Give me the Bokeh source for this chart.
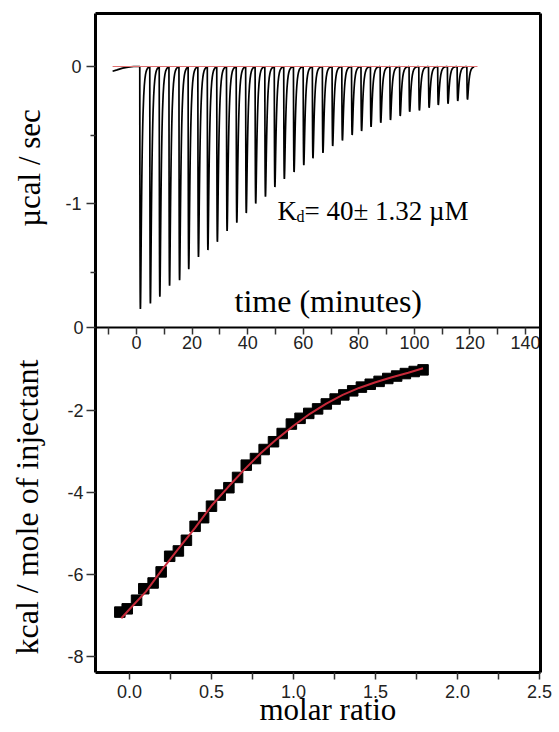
import numpy as np
from bokeh.plotting import figure
from bokeh.models import Range1d, LinearAxis, FixedTicker, Label
from bokeh.embed import file_html
from bokeh.resources import INLINE

# ---------------- data ----------------
# raw thermogram (upper panel): time in minutes, signal in ucal/sec
pre_time = [-8.6, -7.0, -5.0, -3.0, -1.0]
pre_ucal = [-0.035, -0.025, -0.012, -0.004, 0.0]
peak_time = [1.4, 5.0, 8.4, 11.9, 15.5, 18.8, 22.3, 25.7, 29.1, 32.6,
             36.1, 39.5, 42.9, 46.4, 49.8, 53.2, 56.7, 60.2, 63.5, 67.1,
             70.6, 74.1, 77.6, 81.0, 84.4, 87.9, 91.4, 94.9, 98.3, 101.8,
             105.3, 108.6, 112.1, 115.6, 119.1]
peak_ucal = [-1.77, -1.73, -1.68, -1.60, -1.56, -1.48, -1.39, -1.34, -1.28, -1.20,
             -1.14, -1.07, -1.00, -0.95, -0.88, -0.82, -0.77, -0.72, -0.67, -0.63,
             -0.58, -0.54, -0.50, -0.47, -0.44, -0.41, -0.39, -0.36, -0.33, -0.32,
             -0.30, -0.28, -0.27, -0.25, -0.24]
trace_end_time = 121.5
baseline_time = [-8.6, 122.7]
baseline_ucal = [0.0, 0.0]

# integrated heats (lower panel)
molar = [-0.059, -0.014, 0.043, 0.087, 0.144, 0.193, 0.245, 0.298, 0.347, 0.400,
         0.452, 0.500, 0.553, 0.606, 0.659, 0.712, 0.768, 0.821, 0.878, 0.931,
         0.987, 1.040, 1.093, 1.147, 1.200, 1.254, 1.307, 1.361, 1.414, 1.468,
         1.522, 1.575, 1.629, 1.682, 1.736, 1.790]
heat = [-6.92, -6.84, -6.63, -6.35, -6.21, -5.94, -5.56, -5.43, -5.17, -4.83,
        -4.62, -4.34, -4.07, -3.89, -3.64, -3.34, -3.18, -2.96, -2.77, -2.57,
        -2.34, -2.20, -2.08, -1.97, -1.85, -1.73, -1.63, -1.53, -1.44, -1.37,
        -1.30, -1.23, -1.17, -1.11, -1.06, -1.02]
fit_molar = [-0.05, 0.0, 0.1, 0.2, 0.3, 0.4, 0.5, 0.6, 0.7, 0.8,
             0.9, 1.0, 1.1, 1.2, 1.3, 1.4, 1.5, 1.6, 1.7, 1.79]
fit_heat = [-7.07, -6.85, -6.42, -5.88, -5.37, -4.87, -4.33, -3.88, -3.45, -3.05,
            -2.70, -2.38, -2.09, -1.84, -1.63, -1.46, -1.32, -1.20, -1.09, -0.98]

# ticks and tick labels
time_ticks = [0, 20, 40, 60, 80, 100, 120, 140]
time_minor = [-10, 10, 30, 50, 70, 90, 110, 130]
time_labels = ["0", "20", "40", "60", "80", "100", "120", "140"]
ucal_ticks = [0, -1]
ucal_minor = [-0.5, -1.5]
ucal_labels = ["0", "-1"]
kcal_ticks = [-8, -6, -4, -2, 0]
kcal_labels = ["-8", "-6", "-4", "-2", "0"]
molar_ticks = [0.0, 0.5, 1.0, 1.5, 2.0, 2.5]
molar_minor = [0.25, 0.75, 1.25, 1.75, 2.25]
molar_labels = ["0.0", "0.5", "1.0", "1.5", "2.0", "2.5"]

# ---------------- build thermogram trace from peaks ----------------
tau_rise, tau_decay = 0.12, 0.5
s_peak = tau_rise * tau_decay / (tau_decay - tau_rise) * np.log(tau_decay / tau_rise)
norm = np.exp(-s_peak / tau_decay) - np.exp(-s_peak / tau_rise)
trace_t = list(pre_time)
trace_y = list(pre_ucal)
n = len(peak_time)
for i, (tp, d) in enumerate(zip(peak_time, peak_ucal)):
    t0 = tp - s_peak
    t1 = (peak_time[i + 1] - s_peak) if i + 1 < n else trace_end_time
    s = np.concatenate([np.linspace(0, 1.2, 50), np.linspace(1.2, t1 - t0, 12)[1:]])
    g = (np.exp(-s / tau_decay) - np.exp(-s / tau_rise)) / norm
    trace_t += list(t0 + s)
    trace_y += list(d * g)

# ---------------- figure (frame = whole canvas; boxes drawn by bounded axes) ----------------
W, H = 555, 730
# plot box in data units
molar_lo, molar_hi = -0.207, 2.506
kcal_lo, kcal_hi = -8.39, 7.66
time_lo, time_hi = -14.75, 145.4

p = figure(width=W, height=H,
           x_range=Range1d(-0.7866, 2.5976), y_range=Range1d(-9.803, 7.976),
           x_axis_location=None, y_axis_location=None,
           toolbar_location=None, output_backend="svg",
           min_border=0, min_border_left=0, min_border_right=0,
           min_border_top=0, min_border_bottom=0)
p.extra_x_ranges = {"time": Range1d(-48.94, 150.77)}
p.extra_y_ranges = {"ucal": Range1d(-4.8467, 0.4818)}
p.grid.visible = False
p.outline_line_color = None
p.background_fill_color = "white"
p.border_fill_color = "white"


def make_axis(side, ticks, minor, labels, loc, bounds, tick_out, minor_out, standoff,
              line_width=3, x_range_name="default", y_range_name="default"):
    ax = LinearAxis(ticker=FixedTicker(ticks=ticks, minor_ticks=minor),
                    fixed_location=loc, bounds=bounds,
                    x_range_name=x_range_name, y_range_name=y_range_name)
    ax.major_label_text_font = "Liberation Sans"
    if labels:
        ax.major_label_overrides = dict(zip(ticks, labels))
        ax.major_label_text_font_size = "18px"
    else:
        ax.major_label_text_font_size = "0px"
    ax.major_label_text_color = "#222222"
    ax.axis_line_color = "black"
    ax.axis_line_width = line_width
    ax.major_tick_line_color = "#333333"
    ax.major_tick_line_width = 1.5
    ax.minor_tick_line_color = "#333333"
    ax.minor_tick_line_width = 1.5
    ax.major_tick_in = 0
    ax.minor_tick_in = 0
    ax.major_tick_out = tick_out
    ax.minor_tick_out = minor_out
    ax.major_label_standoff = standoff
    p.add_layout(ax, side)
    return ax

# lower panel x axis (molar ratio) at the bottom of the box
make_axis("below", molar_ticks, molar_minor, molar_labels, kcal_lo, (molar_lo, molar_hi), 7, 7, 6)
# lower panel y axis (kcal)
make_axis("left", kcal_ticks, [], kcal_labels, molar_lo, (kcal_lo, kcal_hi), 9, 0, 3)
# upper panel y axis (ucal)
make_axis("left", ucal_ticks, ucal_minor, ucal_labels, molar_lo, (kcal_lo, kcal_hi), 9, 5, 5,
          line_width=0, y_range_name="ucal")
# upper panel x axis (time), drawn on the divider between the panels
make_axis("below", time_ticks, time_minor, time_labels, 0, (time_lo, time_hi), 7, 7, 1,
          line_width=2, x_range_name="time")
# right and top edges of the box
make_axis("right", [], [], None, molar_hi, (kcal_lo, kcal_hi), 0, 0, 0)
make_axis("above", [], [], None, kcal_hi, (molar_lo, molar_hi), 0, 0, 0)

# ---------------- glyphs ----------------
p.line(trace_t, trace_y, x_range_name="time", y_range_name="ucal",
       line_color="black", line_width=1.7)
p.line(baseline_time, baseline_ucal, x_range_name="time", y_range_name="ucal",
       line_color="#e07070", line_width=1)

p.scatter(molar, heat, marker="square", size=10.5, fill_color="black", line_color="black")
p.line(fit_molar, fit_heat, line_color="#c62a3a", line_width=2)

# ---------------- texts (anchored at the middle of each text) ----------------
serif = "Liberation Serif"
p.add_layout(Label(x=molar_lo, y=-4.36, x_offset=-68.5, text="kcal / mole of injectant",
                   angle=90, angle_units="deg", text_align="center", text_baseline="middle",
                   text_font=serif, text_font_size="32px", text_color="black"))
p.add_layout(Label(x=molar_lo, y=-0.741, y_range_name="ucal", x_offset=-66,
                   text="µcal / sec", angle=90, angle_units="deg", text_align="center",
                   text_baseline="middle", text_font=serif, text_font_size="31px",
                   text_color="black"))
p.add_layout(Label(x=69.0, y=-1.708, x_range_name="time", y_range_name="ucal",
                   text="time (minutes)", text_align="center", text_baseline="middle",
                   text_font=serif, text_font_size="32px", text_color="black"))
p.add_layout(Label(x=1.21, y=-9.29, text="molar ratio", text_align="center",
                   text_baseline="middle", text_font=serif, text_font_size="31px",
                   text_color="black"))
kd_x, kd_y = 50.74, -1.054
p.add_layout(Label(x=kd_x, y=kd_y, x_range_name="time", y_range_name="ucal", text="K",
                   text_align="left", text_baseline="middle", text_font=serif,
                   text_font_size="27px", text_color="black"))
p.add_layout(Label(x=kd_x, y=kd_y, x_range_name="time", y_range_name="ucal", text="d",
                   x_offset=19, y_offset=-5.5, text_align="left", text_baseline="middle",
                   text_font=serif, text_font_size="16px", text_color="black"))
p.add_layout(Label(x=kd_x, y=kd_y, x_range_name="time", y_range_name="ucal",
                   text="= 40± 1.32 µM", x_offset=27, text_align="left",
                   text_baseline="middle", text_font=serif, text_font_size="27px",
                   text_color="black"))

open("out.html", "w").write(file_html(p, INLINE, title="ITC"))
